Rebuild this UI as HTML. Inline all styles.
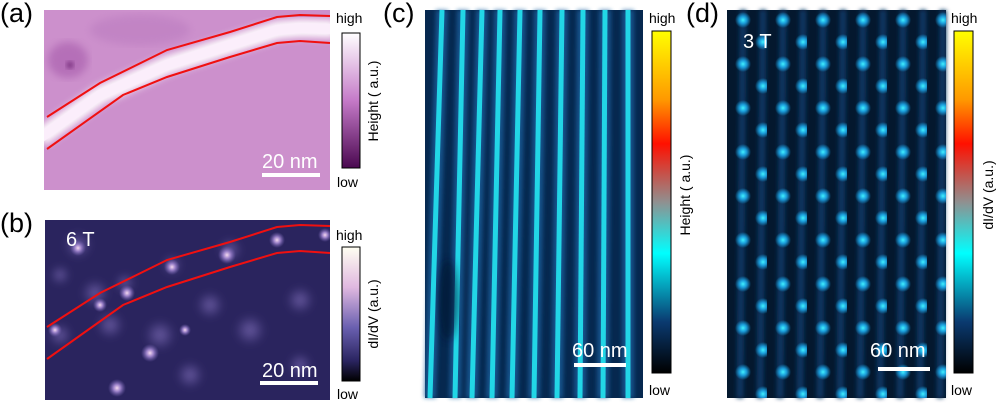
<!DOCTYPE html>
<html><head><meta charset="utf-8"><style>
html,body{margin:0;padding:0;background:#fff;width:1000px;height:405px;overflow:hidden}
svg{display:block}
text{font-family:"Liberation Sans",sans-serif}
</style></head><body>
<svg width="1000" height="405" viewBox="0 0 1000 405" xmlns="http://www.w3.org/2000/svg">
<defs>
<linearGradient id="cba" x1="0" y1="0" x2="0" y2="1"><stop offset="0" stop-color="#ffffff"/><stop offset="0.5" stop-color="#c57ac8"/><stop offset="1" stop-color="#4a0850"/></linearGradient>
<linearGradient id="cbb" x1="0" y1="0" x2="0" y2="1"><stop offset="0" stop-color="#fffff2"/><stop offset="0.3" stop-color="#e0b8e0"/><stop offset="0.6" stop-color="#6a60b0"/><stop offset="0.85" stop-color="#2a2460"/><stop offset="1" stop-color="#000"/></linearGradient>
<linearGradient id="cbc" x1="0" y1="0" x2="0" y2="1"><stop offset="0" stop-color="#ffff00"/><stop offset="0.2" stop-color="#ff9900"/><stop offset="0.33" stop-color="#ff1000"/><stop offset="0.5" stop-color="#909090"/><stop offset="0.65" stop-color="#00ffff"/><stop offset="0.85" stop-color="#0a3a70"/><stop offset="1" stop-color="#000"/></linearGradient>
<radialGradient id="dot"><stop offset="0" stop-color="#40f0ff"/><stop offset="0.45" stop-color="#1a9ad8"/><stop offset="1" stop-color="#1a9ad8" stop-opacity="0"/></radialGradient>
<radialGradient id="blob"><stop offset="0" stop-color="#f4d8f0"/><stop offset="0.4" stop-color="#9a80c8"/><stop offset="1" stop-color="#6a5aa8" stop-opacity="0"/></radialGradient>
<radialGradient id="blob2"><stop offset="0" stop-color="#8070b8" stop-opacity="0.8"/><stop offset="1" stop-color="#6a5aa8" stop-opacity="0"/></radialGradient>
<pattern id="dots" x="727" y="10" width="40" height="44" patternUnits="userSpaceOnUse">
<circle cx="16" cy="10" r="8" fill="url(#dot)"/><circle cx="36" cy="32" r="8" fill="url(#dot)"/>
</pattern>
<filter id="bl"><feGaussianBlur stdDeviation="4"/></filter>
<filter id="bl2"><feGaussianBlur stdDeviation="2"/></filter>
<clipPath id="ca"><rect x="44" y="10" width="286" height="180"/></clipPath>
<clipPath id="cb"><rect x="45" y="220" width="285" height="180"/></clipPath>
</defs>

<!-- (a) -->
<text x="0" y="22" font-size="27">(a)</text>
<rect x="44" y="10" width="286" height="180" fill="#cc90cc"/>
<g clip-path="url(#ca)">
<ellipse cx="68" cy="60" rx="20" ry="18" fill="#9a4aa0" opacity="0.45" filter="url(#bl)"/>
<ellipse cx="70" cy="65" rx="4" ry="4" fill="#6a2070" opacity="0.6" filter="url(#bl2)"/>
<ellipse cx="140" cy="30" rx="50" ry="15" fill="#b070b8" opacity="0.35" filter="url(#bl)"/>
<polyline points="40,138 100,95 167,65 230,45 277,30 300,28 335,29" fill="none" stroke="#fff" stroke-width="18" filter="url(#bl)"/>
<polyline points="40,138 100,95 167,65 230,45 277,30 300,28 335,29" fill="none" stroke="#fbeefb" stroke-width="10"/>
<polyline points="47,117 100,83 167,50 230,32 277,17 300,15 330,16" fill="none" stroke="#f01010" stroke-width="2"/>
<polyline points="47,149 123,95 167,77 230,57 277,43 300,41 330,43" fill="none" stroke="#f01010" stroke-width="2"/>
</g>
<text x="262" y="168" font-size="20" fill="#fff">20 nm</text>
<rect x="262" y="173" width="58" height="4" fill="#fff"/>
<text x="336" y="23" font-size="14">high</text>
<rect x="342" y="33" width="18" height="135" fill="url(#cba)" stroke="#000" stroke-width="1"/>
<text x="337" y="187" font-size="14">low</text>
<text transform="translate(378,101) rotate(-90)" font-size="14" text-anchor="middle">Height ( a.u.)</text>

<!-- (b) -->
<text x="0" y="232" font-size="27">(b)</text>
<rect x="45" y="220" width="285" height="180" fill="#2a245e"/>
<g clip-path="url(#cb)">
<g filter="url(#bl)">
<circle cx="78" cy="245" r="14" fill="url(#blob2)"/><circle cx="60" cy="275" r="10" fill="url(#blob2)"/>
<circle cx="95" cy="293" r="14" fill="url(#blob2)"/><circle cx="125" cy="283" r="10" fill="url(#blob2)"/>
<circle cx="172" cy="265" r="10" fill="url(#blob2)"/><circle cx="110" cy="325" r="14" fill="url(#blob2)"/>
<circle cx="160" cy="335" r="16" fill="url(#blob2)"/><circle cx="210" cy="305" r="14" fill="url(#blob2)"/>
<circle cx="250" cy="330" r="16" fill="url(#blob2)"/><circle cx="300" cy="300" r="14" fill="url(#blob2)"/>
<circle cx="300" cy="365" r="12" fill="url(#blob2)"/><circle cx="190" cy="375" r="14" fill="url(#blob2)"/>
<circle cx="60" cy="335" r="12" fill="url(#blob2)"/><circle cx="230" cy="250" r="12" fill="url(#blob2)"/>
</g>
<circle cx="78" cy="248" r="8" fill="url(#blob)"/>
<circle cx="127" cy="293" r="8" fill="url(#blob)"/>
<circle cx="172" cy="267" r="8" fill="url(#blob)"/>
<circle cx="227" cy="255" r="9" fill="url(#blob)"/>
<circle cx="277" cy="240" r="8" fill="url(#blob)"/>
<circle cx="325" cy="235" r="7" fill="url(#blob)"/>
<circle cx="150" cy="353" r="9" fill="url(#blob)"/>
<circle cx="117" cy="388" r="9" fill="url(#blob)"/>
<circle cx="185" cy="330" r="6" fill="url(#blob)"/>
<circle cx="100" cy="305" r="7" fill="url(#blob)"/>
<circle cx="55" cy="330" r="7" fill="url(#blob)"/>
<polyline points="47,327 100,293 167,260 230,242 277,227 300,225 330,226" fill="none" stroke="#f01010" stroke-width="2"/>
<polyline points="47,359 123,305 167,287 230,267 277,253 300,251 330,253" fill="none" stroke="#f01010" stroke-width="2"/>
</g>
<text x="66" y="246" font-size="20" fill="#fff">6 T</text>
<text x="262" y="377" font-size="20" fill="#fff">20 nm</text>
<rect x="260" y="381" width="58" height="4" fill="#fff"/>
<text x="336" y="240" font-size="14">high</text>
<rect x="342" y="247" width="18" height="134" fill="url(#cbb)" stroke="#000" stroke-width="1"/>
<text x="337" y="399" font-size="14">low</text>
<text transform="translate(378,314) rotate(-90)" font-size="14" text-anchor="middle">dI/dV (a.u.)</text>

<!-- (c) -->
<text x="383" y="22" font-size="27">(c)</text>
<rect x="425" y="10" width="218" height="388" fill="#06284f"/>
<g stroke="#1a62a0" stroke-width="12" opacity="0.75" filter="url(#bl2)">
<line x1="442" y1="10" x2="430" y2="398"/><line x1="463" y1="10" x2="455" y2="398"/><line x1="482" y1="10" x2="472" y2="398"/><line x1="500" y1="10" x2="492" y2="398"/><line x1="520" y1="10" x2="512" y2="398"/><line x1="540" y1="10" x2="534" y2="398"/><line x1="562" y1="10" x2="557" y2="398"/><line x1="583" y1="10" x2="580" y2="398"/><line x1="605" y1="10" x2="603" y2="398"/><line x1="628" y1="10" x2="628" y2="398"/>
</g>
<g stroke="#22d6e6" stroke-width="5">
<line x1="442" y1="10" x2="430" y2="398"/><line x1="463" y1="10" x2="455" y2="398"/><line x1="482" y1="10" x2="472" y2="398"/><line x1="500" y1="10" x2="492" y2="398"/><line x1="520" y1="10" x2="512" y2="398"/><line x1="540" y1="10" x2="534" y2="398"/><line x1="562" y1="10" x2="557" y2="398"/><line x1="583" y1="10" x2="580" y2="398"/><line x1="605" y1="10" x2="603" y2="398"/><line x1="628" y1="10" x2="628" y2="398"/>
</g>
<ellipse cx="448" cy="300" rx="10" ry="40" fill="#041830" opacity="0.6" filter="url(#bl)"/>
<text x="572" y="357" font-size="20" fill="#fff">60 nm</text>
<rect x="574" y="363" width="52" height="4" fill="#fff"/>
<text x="649" y="23" font-size="14">high</text>
<rect x="652" y="31" width="19" height="342" fill="url(#cbc)" stroke="#000" stroke-width="1"/>
<text x="649" y="395" font-size="14">low</text>
<text transform="translate(690,195) rotate(-90)" font-size="14" text-anchor="middle">Height ( a.u.)</text>

<!-- (d) -->
<text x="686" y="22" font-size="27">(d)</text>
<rect x="727" y="10" width="219" height="388" fill="#04182e"/>
<g stroke="#0b3660" stroke-width="7" filter="url(#bl2)">
<line x1="743" y1="10" x2="740" y2="398"/><line x1="763" y1="10" x2="760" y2="398"/><line x1="783" y1="10" x2="780" y2="398"/><line x1="803" y1="10" x2="800" y2="398"/><line x1="823" y1="10" x2="820" y2="398"/><line x1="843" y1="10" x2="840" y2="398"/><line x1="863" y1="10" x2="860" y2="398"/><line x1="883" y1="10" x2="880" y2="398"/><line x1="903" y1="10" x2="900" y2="398"/><line x1="923" y1="10" x2="920" y2="398"/><line x1="943" y1="10" x2="940" y2="398"/>
</g>
<rect x="727" y="10" width="219" height="388" fill="url(#dots)"/>
<text x="743" y="48" font-size="20" fill="#fff">3 T</text>
<text x="870" y="357" font-size="20" fill="#fff">60 nm</text>
<rect x="878" y="367" width="52" height="4" fill="#fff"/>
<text x="951" y="23" font-size="14">high</text>
<rect x="954" y="31" width="19" height="342" fill="url(#cbc)" stroke="#000" stroke-width="1"/>
<text x="951" y="395" font-size="14">low</text>
<text transform="translate(993,195) rotate(-90)" font-size="14" text-anchor="middle">dI/dV (a.u.)</text>
</svg>
</body></html>
